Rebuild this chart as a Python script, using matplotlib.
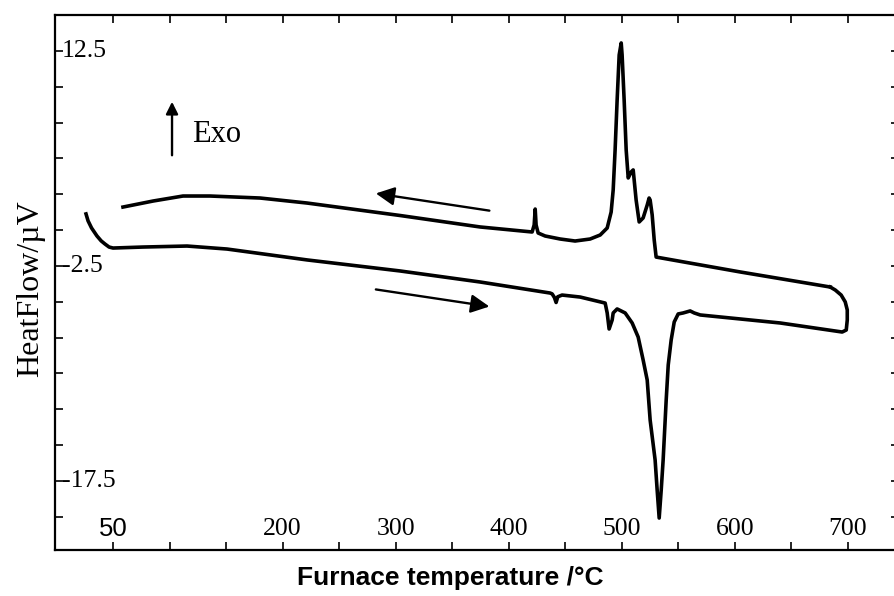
import numpy as np
import matplotlib
matplotlib.use('Agg')
import matplotlib.pyplot as plt
from matplotlib.transforms import blended_transform_factory

# heating run (lower curve), temperature in C and heat flow in uV
heat_T = [26.1, 27.9, 31.0, 35.8, 39.5, 42.9, 46.5, 50.0, 76.5, 115.5,
          150.9, 221.7, 304.0, 374.8, 436.7, 438.5, 440.5, 442.0, 443.5, 447.3,
          463.3, 485.4, 487.2, 488.9, 491.6, 492.5, 496.0, 503.1, 509.3, 514.6,
          519.0, 522.6, 525.2, 529.6, 531.4, 533.2, 535.0, 536.7, 539.4, 541.2,
          543.8, 546.5, 550.0, 554.4, 560.6, 564.2, 569.5, 587.2, 640.3, 695.1,
          698.7, 699.6, 699.6, 697.8, 694.2, 689.0, 684.5]
heat_V = [1.13, 0.65, 0.15, -0.41, -0.75, -0.97, -1.18, -1.25, -1.18, -1.11,
          -1.32, -2.08, -2.85, -3.62, -4.39, -4.45, -4.7, -5.05, -4.65, -4.53,
          -4.67, -5.09, -5.78, -6.9, -6.27, -5.78, -5.5, -5.78, -6.48, -7.46,
          -9.06, -10.46, -13.25, -16.04, -18.13, -20.09, -18.13, -16.04, -11.85, -9.41,
          -7.67, -6.41, -5.85, -5.78, -5.64, -5.78, -5.92, -6.06, -6.48, -7.11,
          -6.97, -6.27, -5.57, -5.01, -4.53, -4.18, -3.97]

# cooling run (upper curve), from high to low temperature
cool_T = [684.5, 604.9, 530.5, 528.8, 527.0, 525.2, 524.3, 522.6, 519.0, 515.5,
          512.8, 510.2, 508.4, 505.8, 504.0, 502.2, 500.4, 499.6, 497.8, 496.0,
          494.2, 492.5, 490.7, 487.2, 481.0, 472.1, 458.8, 445.6, 432.3, 426.1,
          424.3, 423.5, 422.6, 420.8, 374.8, 304.0, 221.7, 180.1, 135.8, 111.9,
          85.4, 58.8]
cool_V = [-3.97, -2.92, -1.88, -0.69, 1.06, 2.1, 2.24, 1.75, 0.85, 0.57,
          2.1, 4.2, 4.06, 3.64, 5.59, 9.08, 12.22, 13.06, 12.22, 9.08,
          5.59, 2.8, 1.26, 0.15, -0.34, -0.62, -0.76, -0.62, -0.41, -0.2,
          0.36, 1.47, 0.36, -0.13, 0.22, 1.02, 1.89, 2.24, 2.38, 2.38,
          2.03, 1.61]

x_ticks = np.arange(50, 701, 50)
x_labels = [50, 200, 300, 400, 500, 600, 700]
y_ticks = np.arange(-20, 12.6, 2.5)
y_labels = [12.5, -2.5, -17.5]

serif = 'Liberation Serif'
sans = 'Liberation Sans'

fig = plt.figure(figsize=(8.95, 5.96), dpi=100)
ax = fig.add_axes([0.0615, 0.0772, 0.9425, 0.8976])

ax.plot(heat_T, heat_V, color='black', lw=2.6, solid_joinstyle='round')
ax.plot(cool_T, cool_V, color='black', lw=2.6, solid_joinstyle='round')

ax.set_xlim(-1.3, 745)
ax.set_ylim(-22.32, 15.01)

ax.set_xticks(x_ticks)
ax.set_yticks(y_ticks)
ax.tick_params(direction='in', length=6, width=1.2, top=True, right=True,
               labelbottom=False, labelleft=False)
for s in ax.spines.values():
    s.set_linewidth(1.6)

# tick labels sit inside the frame
tx = blended_transform_factory(ax.transData, ax.transAxes)
for v in x_labels:
    fam = sans if v == 50 else serif
    ax.text(v, 0.04, str(v), transform=tx, ha='center', va='center',
            family=fam, fontsize=18.5)
ty = blended_transform_factory(ax.transAxes, ax.transData)
for v in y_labels:
    ax.text(0.008, v, '%g' % v, transform=ty, ha='left', va='center',
            family=serif, fontsize=18.5)

# direction arrows
ax.annotate('', xy=(280.1, 2.59), xytext=(385.4, 1.33),
            arrowprops=dict(arrowstyle='-|>', color='black', lw=1.7,
                            mutation_scale=28))
ax.annotate('', xy=(385.4, -5.36), xytext=(280.1, -4.11),
            arrowprops=dict(arrowstyle='-|>', color='black', lw=1.7,
                            mutation_scale=28))
ax.annotate('', xy=(102.2, 9.15), xytext=(102.2, 5.03),
            arrowprops=dict(arrowstyle='-|>', color='black', lw=1.7,
                            mutation_scale=18))
ax.text(119.9, 6.64, 'Exo', family=serif, fontsize=22, va='center', ha='left')

fig.text(0.034, 0.515, 'HeatFlow/\u00b5V', rotation=90, family=serif,
         fontsize=23, ha='center', va='center')
fig.text(0.503, 0.030, 'Furnace temperature /\u00b0C', family=sans,
         fontweight='bold', fontsize=19, ha='center', va='center')

fig.savefig('out.png', dpi=100)
